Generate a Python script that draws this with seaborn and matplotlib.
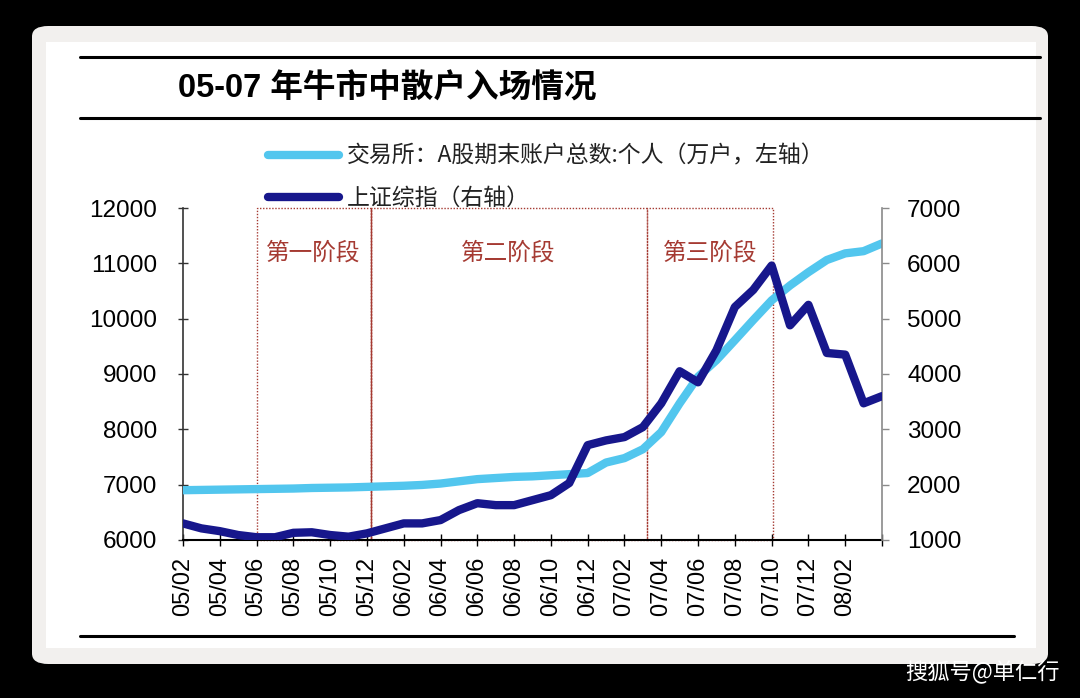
import numpy as np
import pandas as pd
import matplotlib
matplotlib.use("Agg")
import matplotlib.pyplot as plt
import seaborn as sns
from matplotlib.lines import Line2D
from matplotlib.patches import Rectangle, FancyBboxPatch

# ---------------- data ----------------
months = ["05/02","05/03","05/04","05/05","05/06","05/07","05/08","05/09","05/10","05/11","05/12",
          "06/01","06/02","06/03","06/04","06/05","06/06","06/07","06/08","06/09","06/10","06/11","06/12",
          "07/01","07/02","07/03","07/04","07/05","07/06","07/07","07/08","07/09","07/10","07/11","07/12",
          "08/01","08/02","08/03","08/04"]
accounts = [6900, 6905, 6910, 6915, 6920, 6925, 6930, 6940, 6945, 6950, 6960,
            6970, 6980, 6995, 7020, 7060, 7100, 7120, 7140, 7150, 7170, 7190, 7210,
            7400, 7480, 7640, 7950, 8470, 8950, 9250, 9610, 9975, 10330, 10600, 10840,
            11060, 11180, 11220, 11360]
sse = [1300, 1210, 1160, 1090, 1050, 1050, 1130, 1140, 1090, 1060, 1120,
       1210, 1300, 1300, 1360, 1540, 1665, 1630, 1630, 1720, 1810, 2030, 2714,
       2800, 2860, 3040, 3470, 4050, 3850, 4430, 5210, 5520, 5960, 4880, 5250,
       4380, 4350, 3470, 3600]
tick_labels = ["05/02","05/04","05/06","05/08","05/10","05/12","06/02","06/04","06/06","06/08",
               "06/10","06/12","07/02","07/04","07/06","07/08","07/10","07/12","08/02",""]
left_ticks = [6000, 7000, 8000, 9000, 10000, 11000, 12000]
right_ticks = [1000, 2000, 3000, 4000, 5000, 6000, 7000]
stage_names = ["第一阶段", "第二阶段", "第三阶段"]
stage_edges = [4.0, 10.2, 25.2, 32.1]
title = "05-07 年牛市中散户入场情况"
legend_labels = ["交易所：A股期末账户总数:个人（万户，左轴）", "上证综指（右轴）"]
watermark = "搜狐号@单仁行"

df = pd.DataFrame({"idx": np.arange(len(months)), "accounts": accounts, "sse": sse})

# ---------------- style ----------------
sns.set_theme(style="white")
plt.rcParams["font.family"] = ["Liberation Sans", "Noto Sans CJK SC", "DejaVu Sans"]
plt.rcParams["text.color"] = "black"
cjk = ["Noto Sans CJK SC", "DejaVu Sans"]

LIGHT = "#52c6ee"
DARK = "#17178c"
RED = "#a53a32"

fig = plt.figure(figsize=(10.8, 6.98), dpi=100)
fig.patch.set_facecolor("black")

W, H = 1080, 698
def fx(x): return x / W
def fy(y): return 1 - y / H

card = FancyBboxPatch((fx(32), fy(664)), fx(1048) - fx(32), fy(26) - fy(664),
                      boxstyle="round,pad=0,rounding_size=0.015",
                      transform=fig.transFigure, facecolor="#f2f0ee", edgecolor="none", zorder=-10)
fig.patches.append(card)
inner = Rectangle((fx(46), fy(648)), fx(1036) - fx(46), fy(42) - fy(648),
                  transform=fig.transFigure, facecolor="white", edgecolor="none", zorder=-9)
fig.patches.append(inner)

for y, x0, x1 in [(57, 80, 1040), (118, 80, 1040), (636, 80, 1014)]:
    fig.add_artist(Line2D([fx(x0), fx(x1)], [fy(y), fy(y)], transform=fig.transFigure,
                          color="black", lw=2.2, zorder=-5))

fig.text(fx(178), fy(89), title, fontsize=23.5, fontweight="bold", ha="left", va="center",
         color="black", family=["Liberation Sans", "Noto Sans CJK SC"])

# ---------------- axes ----------------
ax = fig.add_axes([fx(183), fy(540), fx(882) - fx(183), fy(208) - fy(540)])
ax.set_facecolor("none")
ax.set_zorder(2)
ax2 = ax.twinx()
ax2.set_zorder(3)
ax2.patch.set_visible(False)

sns.lineplot(data=df, x="idx", y="accounts", ax=ax, color=LIGHT, lw=6,
             solid_joinstyle="round", solid_capstyle="round", zorder=3)
sns.lineplot(data=df, x="idx", y="sse", ax=ax2, color=DARK, lw=6,
             solid_joinstyle="round", solid_capstyle="round", zorder=4)

ax.set_xlim(0, len(months) - 1)
ax.set_ylim(6000, 12000)
ax2.set_ylim(1000, 7000)
xt = list(range(0, len(months), 2))
ax.set_xticks(xt)
ax.set_xticklabels(tick_labels, rotation=90, fontsize=17)
ax.set_yticks(left_ticks)
ax.set_yticklabels([str(v) for v in left_ticks], fontsize=17.5)
ax2.set_yticks(right_ticks)
ax2.set_yticklabels([str(v) for v in right_ticks], fontsize=17.5)
ax.set_xlabel("")
ax.set_ylabel("")
ax2.set_ylabel("")

for a in (ax, ax2):
    for s in a.spines.values():
        s.set_visible(False)
ax.spines["left"].set_visible(True)
ax.spines["left"].set_color("#333333")
ax.spines["left"].set_linewidth(1.2)
ax.spines["bottom"].set_visible(True)
ax.spines["bottom"].set_color("black")
ax.spines["bottom"].set_linewidth(1.5)
ax2.spines["right"].set_visible(True)
ax2.spines["right"].set_color("#8a8a8a")
ax2.spines["right"].set_linewidth(1.2)

ax.tick_params(axis="y", direction="inout", length=7, width=1, color="#333333", pad=15,
               left=True, labelcolor="black")
ax.tick_params(axis="x", direction="inout", length=8, width=1, color="black", pad=8,
               bottom=True, labelcolor="black")
ax2.tick_params(axis="y", direction="out", length=5, width=1, color="#8a8a8a", pad=13,
                right=True, labelcolor="black")
ax.grid(False)
ax2.grid(False)

# stage boxes
for i, name in enumerate(stage_names):
    x0, x1 = stage_edges[i], stage_edges[i + 1]
    ax.add_patch(Rectangle((x0, 6000), x1 - x0, 6000, fill=False, edgecolor=RED,
                           linestyle=(0, (1, 1.2)), lw=1.0, zorder=2, clip_on=False))
    ax.text((x0 + x1) / 2, 11180, name, ha="center", va="center", fontsize=17,
            color=RED, family=cjk, zorder=5)
ax.axvline(stage_edges[1], color=RED, lw=1.0, zorder=2)

# legend
handles = [Line2D([], [], color=LIGHT, lw=6, solid_capstyle="round"),
           Line2D([], [], color=DARK, lw=6, solid_capstyle="round")]
leg = fig.legend(handles, legend_labels, loc="upper left",
                 bbox_to_anchor=(fx(247), fy(124)), frameon=False,
                 handlelength=3.1, handletextpad=0.35, labelspacing=0.85,
                 prop={"family": cjk, "size": 16.5})
for t in leg.get_texts():
    t.set_color("#222222")

fig.text(fx(905), fy(672), watermark, color="white", fontsize=16, family=cjk,
         ha="left", va="center")

fig.savefig("out.png", dpi=100, facecolor=fig.get_facecolor())
